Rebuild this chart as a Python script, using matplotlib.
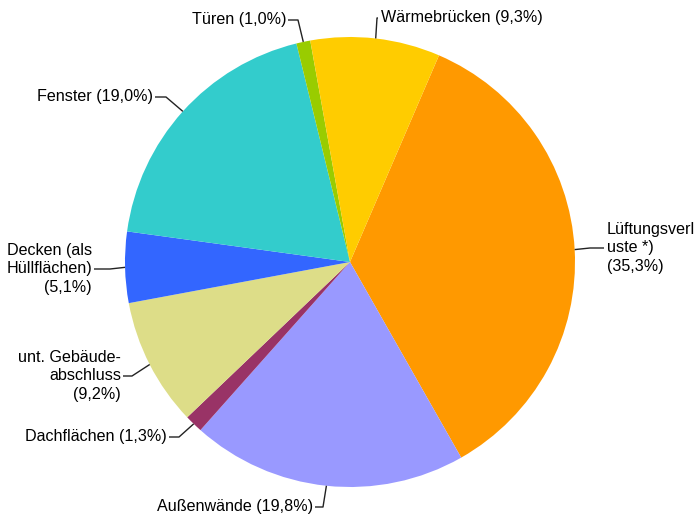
import numpy as np
import matplotlib
matplotlib.use("Agg")
import matplotlib.pyplot as plt

plt.rcParams["font.family"] = ["Liberation Sans", "DejaVu Sans"]

# data, clockwise from the Lüftungsverluste wedge
labels = ["Lüftungsverl\nuste *)\n(35,3%)", "Außenwände (19,8%)", "Dachflächen (1,3%)",
          "unt. Gebäude-\nabschluss\n(9,2%)", "Decken (als\nHüllflächen)\n(5,1%)",
          "Fenster (19,0%)", "Türen (1,0%)", "Wärmebrücken (9,3%)"]
values = [35.3, 19.8, 1.3, 9.2, 5.1, 19.0, 1.0, 9.3]
colors = ["#ff9900", "#9999ff", "#993366", "#dddd88", "#3366ff",
          "#33cccc", "#99cc00", "#ffcc00"]

W, H = 696, 516
CX, CY, R = 350, 262, 225


def px(x, y):
    # pixel position -> data coords (pie radius = 1)
    return (x - CX) / R, (CY - y) / R


# label layout: elbow pixel, text anchor pixel, horizontal alignment
layout = [
    ((590, 248), (607, 248), "left"),
    ((323, 507), (313, 507), "right"),
    ((179, 437), (167, 437), "right"),
    ((132, 376), (121, 376), "right"),
    ((110, 269), (92, 269), "right"),
    ((166, 97), (153, 97), "right"),
    ((298, 20), (286, 20), "right"),
    ((377, 18), (381, 18), "left"),
]

fig = plt.figure(figsize=(W / 100, H / 100), dpi=100)
ax = fig.add_axes([0, 0, 1, 1])
start = 90 - 23.3
wedges, _ = ax.pie(values, colors=colors, startangle=start, counterclock=False,
                   radius=1, center=(0, 0), wedgeprops=dict(linewidth=0))

for w, lab, (elbow, tpos, ha) in zip(wedges, labels, layout):
    mid = np.deg2rad((w.theta1 + w.theta2) / 2)
    ex, ey = np.cos(mid), np.sin(mid)
    bx, by = px(*elbow)
    tx, ty = px(*tpos)
    end_x = tx + 2 / R if ha == "right" else tx - 3 / R
    ax.plot([ex, bx, end_x], [ey, by, ty], color="#222222", lw=1.0,
            solid_capstyle="butt")
    ax.text(tx, ty, lab, ha=ha, va="center", fontsize=11.6, color="black",
            multialignment=ha, linespacing=1.3)

x0, y0 = px(0, H)
x1, y1 = px(W, 0)
ax.set_xlim(x0, x1)
ax.set_ylim(y0, y1)
ax.set_aspect("equal")
ax.axis("off")

fig.savefig("out.png", dpi=100)
